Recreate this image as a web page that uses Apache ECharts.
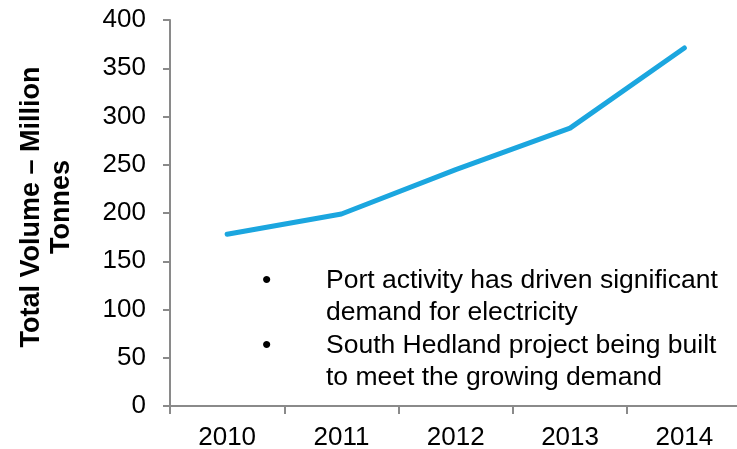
<!DOCTYPE html>
<html>
<head>
<meta charset="utf-8">
<style>
  html, body { margin: 0; padding: 0; background: #fff; }
  #chart { width: 737px; height: 449px; }
</style>
<script src="https://cdn.jsdelivr.net/npm/echarts@6/dist/echarts.min.js"></script>
</head>
<body>
<div id="chart"></div>
<script>
// Port throughput by year (million tonnes)
const years = ['2010', '2011', '2012', '2013', '2014'];
const volumes = [178, 199, 245, 288, 371];
const yTicks = { min: 0, max: 400, interval: 50 };
const yAxisTitle = 'Total Volume – Million\nTonnes';
const notes = [
  ['Port activity has driven significant', 'demand for electricity'],
  ['South Hedland project being built', 'to meet the growing demand']
];

const FONT = '"Liberation Sans", Arial, sans-serif';
const AXIS_GREY = '#8a8a8a';

// Bullet annotations inside the plot
const graphics = [];
const lineTops = [282, 314.5, 347, 379.5];
let li = 0;
notes.forEach(function (lines) {
  graphics.push({
    type: 'text', left: 262, top: lineTops[li] - 15,
    style: { text: '•', font: '26.5px ' + FONT, fill: '#000' }
  });
  lines.forEach(function (t) {
    graphics.push({
      type: 'text', left: 326, top: lineTops[li] - 15,
      style: { text: t, font: '26.5px ' + FONT, fill: '#000' }
    });
    li++;
  });
});

const chart = echarts.init(document.getElementById('chart'), null, { renderer: 'canvas' });
chart.setOption({
  animation: false,
  backgroundColor: '#fff',
  grid: { left: 170, top: 20, width: 571.5, height: 386, containLabel: false, outerBoundsMode: 'none' },
  xAxis: {
    type: 'category',
    data: years,
    boundaryGap: true,
    axisLine: { lineStyle: { color: AXIS_GREY, width: 2 } },
    axisTick: { show: true, length: 8, lineStyle: { color: AXIS_GREY, width: 2 } },
    axisLabel: { color: '#000', fontSize: 26, fontFamily: FONT, margin: 19 },
    splitLine: { show: false }
  },
  yAxis: {
    type: 'value',
    min: yTicks.min, max: yTicks.max, interval: yTicks.interval,
    name: yAxisTitle,
    nameLocation: 'middle',
    nameRotate: 90,
    nameGap: 93,
    nameTextStyle: {
      color: '#000', fontSize: 27, fontWeight: 'bold', fontFamily: FONT,
      lineHeight: 30, padding: [0, 0, 0, 12]
    },
    axisLine: { show: true, lineStyle: { color: AXIS_GREY, width: 2 } },
    axisTick: { show: true, length: 7, lineStyle: { color: AXIS_GREY, width: 2 } },
    axisLabel: { color: '#000', fontSize: 26, fontFamily: FONT, margin: 24 },
    splitLine: { show: false }
  },
  series: [{
    type: 'line',
    data: volumes,
    symbol: 'none',
    lineStyle: { color: '#1BA6DF', width: 5, cap: 'round', join: 'round' },
    silent: true
  }],
  graphic: graphics
});
</script>
</body>
</html>
